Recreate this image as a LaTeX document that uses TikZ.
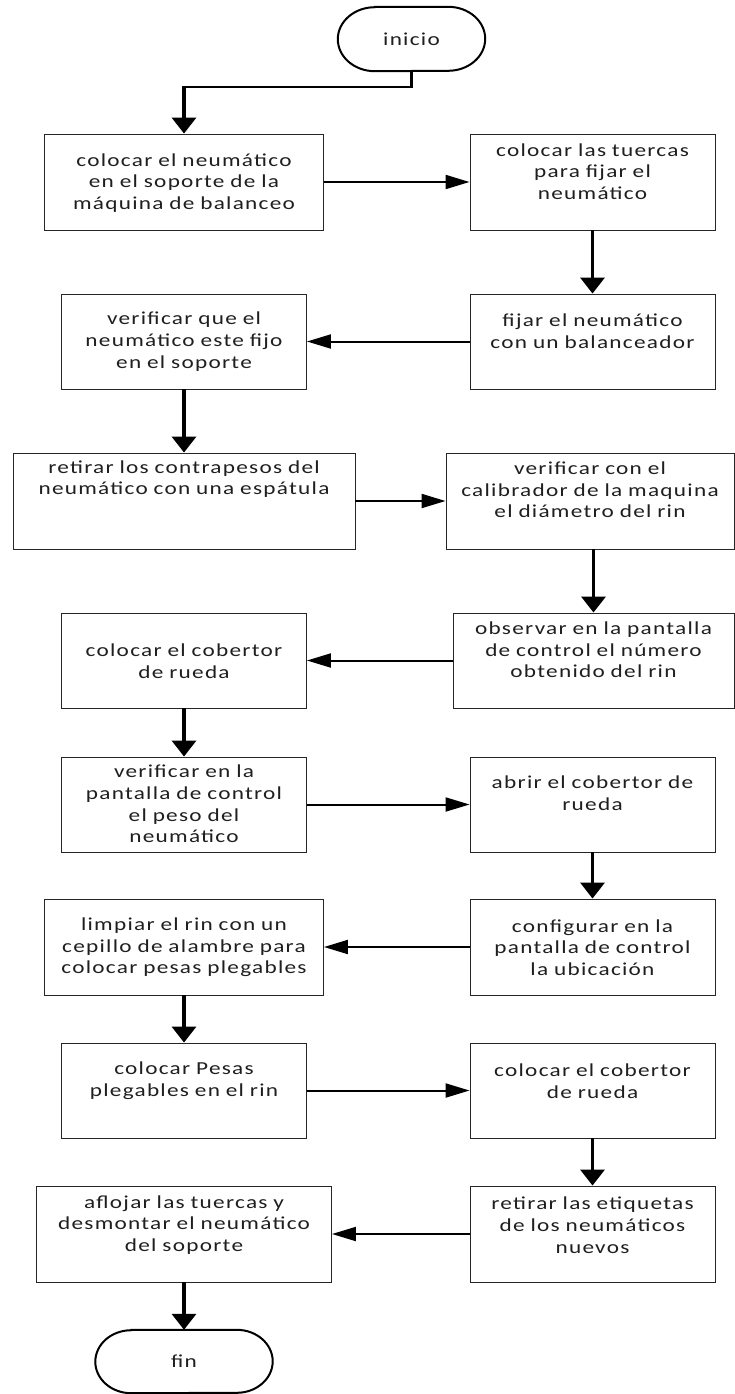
\documentclass[tikz,border=0pt]{standalone}
\usepackage{fontspec}
\setmainfont{Carlito}[FakeStretch=1.27, LetterSpace=7, WordSpace=0.9]
\usetikzlibrary{arrows.meta}
\begin{document}
\begin{tikzpicture}[x=1pt, y=-1pt,
  stepbox/.style={draw=black!85, line width=0.9pt, rectangle, inner sep=0pt},
  txt/.style={align=center, text=black!88, font=\fontsize{18.3}{21.7}\selectfont, inner sep=0pt},
  term/.style={draw=black, line width=2pt},
  vline/.style={line width=3.4pt, -{Triangle[length=16pt,width=24pt]}},
  hline/.style={line width=2pt, -{Triangle[length=24pt,width=14pt]}},
]
\fill[white] (0,0) rectangle (735,1394);
\useasboundingbox (0,0) rectangle (735,1394);

% terminators
\node[txt, minimum width=147pt, minimum height=64pt] (inicio) at (411.5,39) {inicio};
\draw[term] ([xshift=37pt]inicio.north west) -- ([xshift=-37pt]inicio.north east)
  arc[start angle=90, end angle=-90, x radius=37pt, y radius=32pt]
  -- ([xshift=37pt]inicio.south west)
  arc[start angle=270, end angle=90, x radius=37pt, y radius=32pt] -- cycle;

\node[txt, minimum width=177pt, minimum height=63pt] (fin) at (184,1361.5) {fin};
\draw[term] ([xshift=36pt]fin.north west) -- ([xshift=-36pt]fin.north east)
  arc[start angle=90, end angle=-90, x radius=36pt, y radius=31.5pt]
  -- ([xshift=36pt]fin.south west)
  arc[start angle=270, end angle=90, x radius=36pt, y radius=31.5pt] -- cycle;

% process boxes
\node[stepbox, minimum width=279pt, minimum height=96pt] (b1) at (184,182) {};
\node[stepbox, minimum width=245pt, minimum height=96pt] (b2) at (592.5,182) {};
\node[stepbox, minimum width=245pt, minimum height=95pt] (b3) at (592.5,341.5) {};
\node[stepbox, minimum width=245pt, minimum height=95pt] (b4) at (184,341.5) {};
\node[stepbox, minimum width=342pt, minimum height=96pt] (b5) at (184,501) {};
\node[stepbox, minimum width=288pt, minimum height=96pt] (b6) at (590,501) {};
\node[stepbox, minimum width=281pt, minimum height=95pt] (b7) at (593.5,660.5) {};
\node[stepbox, minimum width=245pt, minimum height=95pt] (b8) at (184,660.5) {};
\node[stepbox, minimum width=245pt, minimum height=95pt] (b9) at (184,804.5) {};
\node[stepbox, minimum width=245pt, minimum height=95pt] (b10) at (592.5,804.5) {};
\node[stepbox, minimum width=245pt, minimum height=96pt] (b11) at (592.5,947) {};
\node[stepbox, minimum width=279pt, minimum height=96pt] (b12) at (184,947) {};
\node[stepbox, minimum width=245pt, minimum height=95pt] (b13) at (184,1090.5) {};
\node[stepbox, minimum width=245pt, minimum height=95pt] (b14) at (592.5,1090.5) {};
\node[stepbox, minimum width=245pt, minimum height=96pt] (b15) at (592.5,1234) {};
\node[stepbox, minimum width=295pt, minimum height=96pt] (b16) at (184,1234) {};

% box texts
\node[txt] (t1) at (184,183) {colocar el neumático\\en el soporte de la\\máquina de balanceo};
\node[txt] (t2) at (592.5,171.5) {colocar las tuercas\\para fijar el\\neumático};
\node[txt] (t3) at (592.5,331) {fijar el neumático\\con un balanceador};
\node[txt] (t4) at (184,341.5) {verificar que el\\neumático este fijo\\en el soporte};
\node[txt] (t5) at (184,479) {retirar los contrapesos del\\neumático con una espátula};
\node[txt] (t6) at (590,490) {verificar con el\\calibrador de la maquina\\el diámetro del rin};
\node[txt] (t7) at (593.5,650) {observar en la pantalla\\de control el número\\obtenido del rin};
\node[txt] (t8) at (184,661) {colocar el cobertor\\de rueda};
\node[txt] (t9) at (184,804) {verificar en la\\pantalla de control\\el peso del\\neumático};
\node[txt] (t10) at (592.5,793.5) {abrir el cobertor de\\rueda};
\node[txt] (t11) at (592.5,947.5) {configurar en la\\pantalla de control\\la ubicación};
\node[txt] (t12) at (184,947.5) {limpiar el rin con un\\cepillo de alambre para\\colocar pesas plegables};
\node[txt] (t13) at (184,1081) {colocar Pesas\\plegables en el rin};
\node[txt] (t14) at (592.5,1081) {colocar el cobertor\\de rueda};
\node[txt] (t15) at (592.5,1225) {retirar las etiquetas\\de los neumáticos\\nuevos};
\node[txt] (t16) at (184,1225) {aflojar las tuercas y\\desmontar el neumático\\del soporte};

% elbow connector from the start terminator
\coordinate (k1) at ([yshift=-16pt]inicio.south);
\coordinate (k2) at (b1.north |- k1);
\draw[line width=3.4pt] (inicio.south) -- (k1);
\draw[line width=2pt] ([xshift=1.7pt]k1) -- ([xshift=-1.7pt]k2);
\draw[vline] ([yshift=1pt]k2) -- (b1.north);

% horizontal flow
\draw[hline] (b1.east) -- (b2.west);
\draw[hline] (b3.west) -- (b4.east);
\draw[hline] (b5.east) -- (b6.west);
\draw[hline] (b7.west) -- (b8.east);
\draw[hline] (b9.east) -- (b10.west);
\draw[hline] (b11.west) -- (b12.east);
\draw[hline] (b13.east) -- (b14.west);
\draw[hline] (b15.west) -- (b16.east);

% vertical flow
\draw[vline] (b2.south) -- (b3.north);
\draw[vline] (b4.south) -- (b5.north);
\draw[vline] (b7.north |- b6.south) -- (b7.north);
\draw[vline] (b8.south) -- (b9.north);
\draw[vline] (b10.south) -- (b11.north);
\draw[vline] (b12.south) -- (b13.north);
\draw[vline] (b14.south) -- (b15.north);
\draw[vline] (b16.south) -- (fin.north);
\end{tikzpicture}
\end{document}
